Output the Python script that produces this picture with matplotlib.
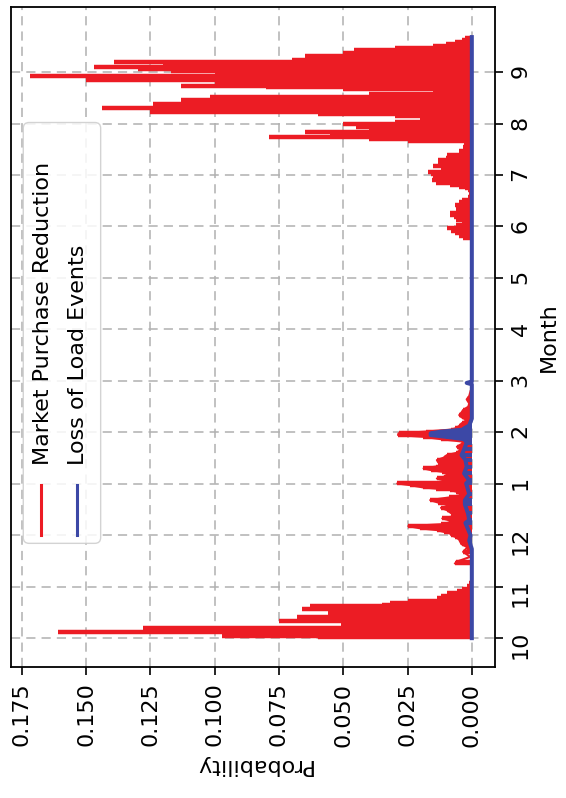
import numpy as np
import matplotlib
matplotlib.use("Agg")
import matplotlib.pyplot as plt
from matplotlib.patches import FancyBboxPatch
from matplotlib.ticker import FormatStrFormatter

# hours of the year (Oct -> Sep), ticks every 750 h
month_ticks = [0, 750, 1500, 2250, 3000, 3750, 4500, 5250, 6000, 6750, 7500, 8250]
month_labels = ["10", "11", "12", "1", "2", "3", "4", "5", "6", "7", "8", "9"]
prob_ticks = [0.0, 0.025, 0.05, 0.075, 0.1, 0.125, 0.15, 0.175]

# Market purchase reduction (hour, probability)
mpr_hours = [10, 30, 60, 92, 120, 141, 170, 190, 220, 252, 280, 302, 330, 360, 390,
             418, 445, 467, 490, 515, 545, 579, 610, 652, 690, 720, 760, 800,
             1089, 1113, 1185, 1258, 1312, 1331, 1370, 1404, 1440, 1477, 1500, 1526,
             1550, 1575, 1600, 1633, 1660, 1696, 1720, 1745, 1770, 1793, 1820, 1866,
             1900, 1939, 1975, 2012, 2050, 2080, 2109, 2135, 2158, 2180, 2197, 2230,
             2255, 2279, 2300, 2327, 2350, 2376, 2400, 2425, 2450, 2474, 2500, 2522,
             2560, 2595, 2630, 2668, 2700, 2741, 2765, 2790, 2830, 2862, 2900, 2935,
             2960, 2985, 3010, 3040, 3057, 3090, 3130, 3178, 3220, 3251, 3290, 3324,
             3373, 3420, 3480, 3530, 3600,
             5828, 5860, 5901, 5940, 5974, 6020, 6070, 6100, 6134, 6170, 6192, 6250,
             6313, 6350, 6386, 6430, 6480, 6530, 6557, 6580, 6605, 6640, 6678, 6720,
             6765, 6799, 6830, 6886, 6920, 6969, 7000, 7042, 7100, 7164, 7213,
             7250, 7280, 7309, 7340, 7382, 7421, 7450, 7490, 7520, 7553, 7580, 7610,
             7640, 7665, 7695, 7724, 7750, 7782, 7815, 7845, 7870, 7893, 7930, 7966,
             8000, 8030, 8048, 8075, 8105, 8136, 8165, 8199, 8230, 8267, 8300, 8325,
             8360, 8393, 8427, 8460, 8490, 8530, 8573, 8605, 8636, 8665, 8694, 8720, 8744]
mpr_prob = [0.060, 0.097, 0.097, 0.161, 0.128, 0.128, 0.045, 0.051, 0.045, 0.075, 0.050, 0.068, 0.048, 0.056, 0.048,
            0.066, 0.050, 0.063, 0.035, 0.032, 0.025, 0.0136, 0.012, 0.0097, 0.0058, 0.004, 0.002, 0.001,
            0.0065, 0.006, 0.0006, 0.0034, 0.002, 0.002, 0.004, 0.0045, 0.005, 0.0065, 0.008, 0.0084,
            0.011, 0.0136, 0.020, 0.0247, 0.012, 0.0075, 0.009, 0.0115, 0.008, 0.006, 0.008, 0.0097,
            0.012, 0.0084, 0.013, 0.0162, 0.009, 0.005, 0.0034, 0.006, 0.0084, 0.014, 0.019, 0.024,
            0.029, 0.0084, 0.011, 0.0136, 0.011, 0.0096, 0.010, 0.0115, 0.016, 0.0188, 0.014, 0.012,
            0.013, 0.0136, 0.011, 0.0097, 0.006, 0.0045, 0.005, 0.0058, 0.004, 0.003, 0.012, 0.019,
            0.0287, 0.0285, 0.018, 0.008, 0.0065, 0.005, 0.004, 0.002, 0.004, 0.0049, 0.004, 0.0034,
            0.0014, 0.001, 0.002, 0.001, 0.0005,
            0.0034, 0.005, 0.0065, 0.008, 0.0097, 0.006, 0.004, 0.006, 0.007, 0.0084, 0.0084, 0.006,
            0.0065, 0.005, 0.0039, 0.0015, 0.001, 0.0015, 0.0025, 0.005, 0.0084, 0.014, 0.0156, 0.015,
            0.016, 0.017, 0.012, 0.015, 0.013, 0.013, 0.010, 0.0097, 0.005, 0.0034, 0.003,
            0.025, 0.040, 0.079, 0.055, 0.065, 0.040, 0.045, 0.050, 0.030, 0.020, 0.004, 0.030,
            0.060, 0.125, 0.110, 0.144, 0.090, 0.124, 0.060, 0.113, 0.090, 0.102, 0.040, 0.015,
            0.050, 0.080, 0.113, 0.060, 0.100, 0.150, 0.120, 0.1718, 0.100, 0.117, 0.130, 0.147,
            0.120, 0.139, 0.070, 0.060, 0.065, 0.050, 0.046, 0.030, 0.015, 0.010, 0.0066, 0.004, 0.0026]

# Loss of load events
lol_hours = [0, 1300, 1420, 1500, 1680, 1720, 1820, 1950, 2010, 2100, 2255, 2300, 2400, 2500,
             2600, 2668, 2750, 2850, 2900, 2935, 2960, 2985, 3010, 3040, 3057, 3100, 3200,
             3700, 3720, 3740, 8760]
lol_prob = [0, 0, 0.001, 0.0005, 0.0025, 0.001, 0.0015, 0.0027, 0.0027, 0.001, 0.0022, 0.001, 0.003, 0.002,
            0.0025, 0.004, 0.003, 0.002, 0.003, 0.010, 0.016, 0.016, 0.012, 0.003, 0.003, 0.001, 0,
            0, 0.002, 0, 0]

red = "#ec1c24"
blue = "#3c48a6"

plt.rcParams["font.family"] = "DejaVu Sans"
fig = plt.figure(figsize=(5.66, 7.98), dpi=100)
ax = fig.add_axes([0.0194, 0.1642, 0.8551, 0.8267])

ax.hlines(mpr_hours, 0, mpr_prob, color=red, lw=3.2, zorder=2)
ax.plot(mpr_prob[28:105], mpr_hours[28:105], color=red, lw=1.5, zorder=2)
ax.hlines(lol_hours, 0, lol_prob, color=blue, lw=2.8, zorder=3)
ax.plot(lol_prob, lol_hours, color=blue, lw=2.9, zorder=3)

ax.set_xlim(0.1792, -0.0090)
ax.set_ylim(-420, 9195)

ax.set_xticks(prob_ticks)
ax.xaxis.set_major_formatter(FormatStrFormatter("%.3f"))
ax.set_yticks(month_ticks)
ax.set_yticklabels(month_labels)

ax.tick_params(axis="both", direction="out", length=5.6, width=1.2, labelsize=16, pad=5.6)
ax.tick_params(axis="x", labelrotation=90)
ax.tick_params(axis="y", left=False, right=True, labelleft=False, labelright=True, labelrotation=90)

ax.yaxis.set_label_position("right")
ax.set_ylabel("Month", fontsize=16, rotation=90, labelpad=6)
ax.set_xlabel("Probability", fontsize=16, rotation=180, labelpad=6)

ax.grid(True, ls=(0, (6, 4)), color="#b0b0b0", lw=1.1, zorder=1)
for s in ax.spines.values():
    s.set_linewidth(1.3)

# legend drawn by hand, since it is rotated with the rest of the chart
box = FancyBboxPatch((0.0254, 0.1874), 0.1599, 0.6379, transform=ax.transAxes,
                     boxstyle="round,pad=0,rounding_size=0.012", mutation_aspect=0.733,
                     facecolor="white", edgecolor="#cccccc", lw=1.0, alpha=0.85, zorder=5)
ax.add_patch(box)
ax.plot([0.0614, 0.0614], [0.200, 0.2758], transform=ax.transAxes, color=red, lw=2.2, zorder=6)
ax.plot([0.1357, 0.1357], [0.200, 0.2758], transform=ax.transAxes, color=blue, lw=2.2, zorder=6)
ax.text(0.0658, 0.306, "Market Purchase Reduction", transform=ax.transAxes, rotation=90,
        ha="center", va="bottom", fontsize=16, zorder=6)
ax.text(0.139, 0.306, "Loss of Load Events", transform=ax.transAxes, rotation=90,
        ha="center", va="bottom", fontsize=16, zorder=6)

fig.savefig("out.png", dpi=100)
